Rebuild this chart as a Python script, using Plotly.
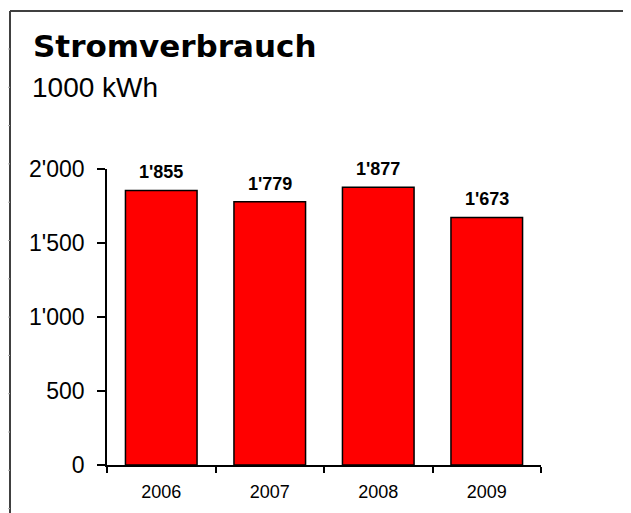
#=====================================================================
# Stromverbrauch, bar chart
#=====================================================================
import plotly.graph_objects as go

years = ["2006", "2007", "2008", "2009"]
verbrauch = [1855, 1779, 1877, 1673]   # 1000 kWh
y_ticks = [0, 500, 1000, 1500, 2000]

# page body has 8px margin -> shrink figure, shift everything
OFF = 8
W, H = 631 - OFF, 513 - OFF
L, R, T, B = 107 - OFF, 90, 169 - OFF, 48
pw, ph = W - L - R, H - T - B

# window pixel -> paper coords (for frame + titles)
def px_x(p):
    return (p - OFF - L) / pw

def px_y(p):
    return (H - B - (p - OFF)) / ph

fig = go.Figure()
fig.add_trace(go.Bar(
    x=years,
    y=verbrauch,
    marker=dict(color="#ff0000", line=dict(color="black", width=1.5)),
    hoverinfo="skip",
))

# value labels above bars (category axis -> use index)
for i, v in enumerate(verbrauch):
    fig.add_annotation(
        x=i, y=v, xref="x", yref="y",
        text=f"{v:,}".replace(",", "'"),
        showarrow=False, yanchor="bottom", yshift=6,
        font=dict(family="Liberation Sans, Arial", size=18, color="black", weight="bold"),
    )

# title + unit
fig.add_annotation(
    x=px_x(31), y=px_y(46), xref="paper", yref="paper",
    text="<b>Stromverbrauch</b>", showarrow=False,
    xanchor="left", yanchor="middle",
    font=dict(family="DejaVu Sans", size=31, color="black"),
)
fig.add_annotation(
    x=px_x(30), y=px_y(88), xref="paper", yref="paper",
    text="1000 kWh", showarrow=False,
    xanchor="left", yanchor="middle",
    font=dict(family="Liberation Sans, Arial", size=28, color="black"),
)

# sheet frame (left + top edge with little grid ticks)
shapes = [
    dict(type="line", xref="paper", yref="paper",
         x0=px_x(10), x1=px_x(631), y0=px_y(11), y1=px_y(11),
         line=dict(color="#404040", width=2)),
    dict(type="line", xref="paper", yref="paper",
         x0=px_x(10), x1=px_x(10), y0=px_y(11), y1=px_y(513),
         line=dict(color="#404040", width=2)),
]
yy = 49.0
while yy < 513:
    shapes.append(dict(type="line", xref="paper", yref="paper",
                       x0=px_x(8), x1=px_x(10), y0=px_y(yy), y1=px_y(yy),
                       line=dict(color="#b0b0b0", width=1)))
    yy += 38.3

fig.update_layout(
    width=W, height=H,
    margin=dict(l=L, r=R, t=T, b=B),
    paper_bgcolor="white",
    plot_bgcolor="white",
    showlegend=False,
    separators=".'",
    bargap=0.34,
    shapes=shapes,
    font=dict(family="Liberation Sans, Arial", color="black"),
)
fig.update_xaxes(
    type="category",
    range=[-0.5, len(years) - 0.5],
    automargin=False,
    showline=True, linecolor="black", linewidth=1.5,
    ticks="outside", tickson="boundaries", ticklen=6, tickwidth=1.5, tickcolor="black",
    tickfont=dict(size=18), tickangle=0,
    ticklabelstandoff=10,
    showgrid=False, zeroline=False,
)
fig.update_yaxes(
    range=[0, 2000],
    automargin=False,
    tickvals=y_ticks, tickformat=",d",
    showline=True, linecolor="black", linewidth=1.5,
    ticks="outside", ticklen=8, tickwidth=1.5, tickcolor="black",
    tickfont=dict(size=23),
    ticklabelstandoff=8,
    showgrid=False, zeroline=False,
)

fig.write_html("out.html")
